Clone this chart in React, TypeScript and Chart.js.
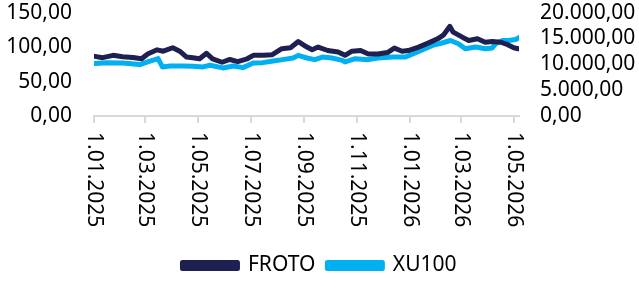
import React, { useEffect, useRef } from "react";
import { Chart, registerables } from "chart.js";

Chart.register(...registerables);

const FONT = "'Noto Sans', 'Open Sans', sans-serif";

const frotoDates = [
  "2025-01-02", "2025-01-11", "2025-01-23", "2025-02-03", "2025-02-15", "2025-02-25",
  "2025-03-04", "2025-03-15", "2025-03-22", "2025-04-02", "2025-04-10", "2025-04-18",
  "2025-04-25", "2025-05-03", "2025-05-11", "2025-05-18", "2025-05-29", "2025-06-07",
  "2025-06-16", "2025-06-27", "2025-07-04", "2025-07-15", "2025-07-26", "2025-08-06",
  "2025-08-16", "2025-08-25", "2025-09-04", "2025-09-10", "2025-09-17", "2025-09-28",
  "2025-10-10", "2025-10-18", "2025-10-26", "2025-11-05", "2025-11-14", "2025-11-25",
  "2025-12-06", "2025-12-14", "2025-12-23", "2025-12-30", "2026-01-11", "2026-01-22",
  "2026-02-02", "2026-02-09", "2026-02-16", "2026-02-20", "2026-03-03", "2026-03-10",
  "2026-03-20", "2026-03-29", "2026-04-06", "2026-04-16", "2026-04-24", "2026-05-01",
  "2026-05-06",
];
const frotoValues = [
  86.5, 84.6, 88, 86, 85, 83,
  90, 96, 94, 99, 94, 85.5,
  84.6, 83, 91, 83, 78, 82,
  79, 83, 88, 88, 89, 97.6,
  99, 108, 100, 96, 100, 95,
  92.8, 88, 94, 95, 90, 90,
  92, 98.5, 94, 95, 100, 105.7,
  112, 117.8, 130, 121.6, 114, 109.6,
  112, 107, 108, 107, 103.4, 99,
  97.6,
];

const xu100Dates = [
  "2025-01-02", "2025-01-16", "2025-02-03", "2025-02-23", "2025-03-04", "2025-03-16",
  "2025-03-21", "2025-03-30", "2025-04-14", "2025-04-25", "2025-05-07", "2025-05-15",
  "2025-05-30", "2025-06-11", "2025-06-22", "2025-07-04", "2025-07-15", "2025-07-27",
  "2025-08-07", "2025-08-19", "2025-08-25", "2025-09-04", "2025-09-13", "2025-09-22",
  "2025-10-03", "2025-10-15", "2025-10-18", "2025-10-30", "2025-11-14", "2025-11-25",
  "2025-12-12", "2025-12-27", "2026-01-11", "2026-01-27", "2026-02-08", "2026-02-17",
  "2026-02-26", "2026-03-06", "2026-03-18", "2026-03-29", "2026-04-06", "2026-04-10",
  "2026-04-18", "2026-04-25", "2026-05-03", "2026-05-08",
];
const xu100Values = [
  10135, 10320, 10250, 9940, 10450, 11090,
  9490, 9680, 9680, 9620, 9490, 9810,
  9300, 9680, 9360, 10250, 10320, 10640,
  10900, 11220, 11730, 11220, 10900, 11410,
  11220, 10770, 10450, 11090, 10900, 11220,
  11410, 11410, 12500, 13650, 14170, 14600,
  13980, 13000, 13330, 13000, 13140, 13980,
  14600, 14600, 14800, 15250,
];

const tickDates = [
  "2025-01-01", "2025-03-01", "2025-05-01", "2025-07-01", "2025-09-01",
  "2025-11-01", "2026-01-01", "2026-03-01", "2026-05-01",
];
const tickLabels = [
  "1.01.2025", "1.03.2025", "1.05.2025", "1.07.2025", "1.09.2025",
  "1.11.2025", "1.01.2026", "1.03.2026", "1.05.2026",
];
const endDate = "2026-05-07";

const leftMax = 150;
const leftStep = 50;
const rightMax = 20000;
const rightStep = 5000;

const START = Date.UTC(2025, 0, 1);
const dayOf = (s: string) => {
  const [y, m, d] = s.split("-").map(Number);
  return Math.round((Date.UTC(y, m - 1, d) - START) / 86400000);
};

const fmt = (v: number) => {
  const neg = v < 0;
  const [intPart, dec] = Math.abs(v).toFixed(2).split(".");
  const withDots = intPart.replace(/\B(?=(\d{3})+(?!\d))/g, ".");
  return (neg ? "-" : "") + withDots + "," + dec;
};

const NAVY = "#1d2050";
const BLUE = "#00b0f0";

const tickDays = tickDates.map(dayOf);

const xLabelPlugin = {
  id: "xlabels",
  afterDraw(chart: any) {
    const sc = chart.scales.x;
    const ctx = chart.ctx;
    ctx.save();
    ctx.font = `21px ${FONT}`;
    ctx.fillStyle = "#000";
    ctx.textAlign = "left";
    ctx.textBaseline = "middle";
    tickDays.forEach((d, i) => {
      const x = sc.getPixelForValue(d);
      ctx.save();
      ctx.translate(x, sc.top + 16);
      ctx.rotate(Math.PI / 2);
      ctx.fillText(tickLabels[i], 0, 0);
      ctx.restore();
    });
    ctx.restore();
  },
};

const PLOT_BOTTOM = 116;

export default function App() {
  const ref = useRef<HTMLCanvasElement | null>(null);

  useEffect(() => {
    document.body.style.margin = "0";
    if (!ref.current) return;
    const chart = new Chart(ref.current, {
      type: "line",
      data: {
        datasets: [
          {
            label: "FROTO",
            data: frotoDates.map((d, i) => ({ x: dayOf(d), y: frotoValues[i] })),
            borderColor: NAVY,
            backgroundColor: NAVY,
            borderWidth: 5,
            pointRadius: 0,
            borderJoinStyle: "round",
            borderCapStyle: "round",
            yAxisID: "y",
          },
          {
            label: "XU100",
            data: xu100Dates.map((d, i) => ({ x: dayOf(d), y: xu100Values[i] })),
            borderColor: BLUE,
            backgroundColor: BLUE,
            borderWidth: 5,
            pointRadius: 0,
            borderJoinStyle: "round",
            borderCapStyle: "round",
            yAxisID: "y1",
          },
        ],
      },
      options: {
        animation: false,
        responsive: true,
        maintainAspectRatio: false,
        layout: { padding: { top: 0, bottom: 0, left: 0, right: 0 } },
        plugins: {
          tooltip: { enabled: false },
          legend: {
            position: "bottom",
            labels: {
              boxWidth: 55,
              boxHeight: 6,
              padding: 12,
              color: "#000",
              font: { family: FONT, size: 21 },
            },
          },
        },
        scales: {
          x: {
            type: "linear",
            min: 0,
            max: dayOf(endDate),
            afterBuildTicks: (scale: any) => {
              scale.ticks = tickDays.map((v) => ({ value: v }));
            },
            afterFit: (s: any) => {
              const lh = s.chart.legend ? s.chart.legend.height : 50;
              s.height = Math.max(20, s.chart.height - lh - PLOT_BOTTOM);
            },
            grid: {
              display: true,
              drawOnChartArea: false,
              drawTicks: true,
              tickLength: 7,
              color: "#d9d9d9",
              lineWidth: 2,
            },
            border: { display: true, color: "#d9d9d9", width: 2 },
            ticks: {
              autoSkip: false,
              maxRotation: 0,
              minRotation: 0,
              padding: 6,
              color: "rgba(0,0,0,0)",
              font: { family: FONT, size: 21 },
              callback: () => "",
            },
          },
          y: {
            position: "left",
            min: 0,
            max: leftMax,
            afterFit: (s: any) => {
              s.width = 94;
            },
            grid: { display: false, drawTicks: true, tickLength: 22 },
            border: { display: false },
            ticks: {
              autoSkip: false,
              stepSize: leftStep,
              padding: 0,
              color: "#000",
              font: { family: FONT, size: 21 },
              callback: (v: any) => fmt(Number(v)),
            },
          },
          y1: {
            position: "right",
            min: 0,
            max: rightMax,
            afterFit: (s: any) => {
              s.width = 120;
            },
            grid: { display: false, drawTicks: true, tickLength: 21 },
            border: { display: false },
            ticks: {
              autoSkip: false,
              stepSize: rightStep,
              padding: 0,
              color: "#000",
              font: { family: FONT, size: 21 },
              callback: (v: any) => fmt(Number(v)),
            },
          },
        },
      },
      plugins: [xLabelPlugin],
    } as any);
    return () => chart.destroy();
  }, []);

  return (
    <div style={{ width: 639, height: 286, position: "relative" }}>
      <canvas ref={ref} />
    </div>
  );
}
